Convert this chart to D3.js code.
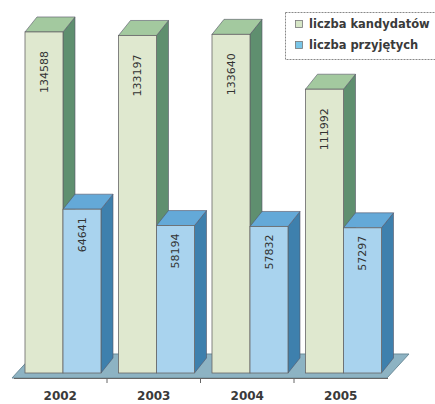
<!DOCTYPE html>
<html>
<head>
<meta charset="utf-8">
<script src="https://cdn.jsdelivr.net/npm/d3@7"></script>
<style>
  html, body { margin: 0; padding: 0; background: #fff; }
  svg { display: block; }
</style>
</head>
<body>
<svg id="chart" width="435" height="404"></svg>
<script>
// Data
const years = ["2002", "2003", "2004", "2005"];
const seriesNames = ["liczba kandydatów", "liczba przyjętych"];
const candidates = [134588, 133197, 133640, 111992];
const admitted = [64641, 58194, 57832, 57297];

// Face colours per series: front, top, side
const palette = [
  { front: "#dfe8cf", top: "#a3c99f", side: "#5f8f6f", swatch: "#d6e6c6" },
  { front: "#a9d3ee", top: "#64a9d8", side: "#3e80ad", swatch: "#79c6e8" }
];

const svg = d3.select("#chart");
const depthX = 12, depthY = -15;
const baseY = 373;

const x0 = d3.scaleBand().domain(years).range([13.5, 387.5]);
const x1 = d3.scaleBand().domain(seriesNames).range([0, 76]);
const groupOffset = 11.5;
const y = d3.scaleLinear().domain([0, 140000]).range([baseY, baseY - 140000 * 0.002534]);

// Floor
const floorG = svg.append("g");
floorG.append("polygon")
  .attr("points", [[12, 378], [387, 378], [409, 354], [34, 354]].map(p => p.join(",")).join(" "))
  .attr("fill", "#8db3c3")
  .attr("stroke", "#6d8c99")
  .attr("stroke-width", 1);

// Category axis along the front edge of the floor
const axis = d3.axisBottom(x0).tickSize(0).tickFormat("");
const axisG = svg.append("g").attr("transform", `translate(0,${378})`).call(axis);
axisG.select(".domain").attr("stroke", "#666").attr("stroke-width", 1.2);
const bounds = [...years.map(d => x0(d)), x0.range()[1]];
axisG.selectAll(".sep").data(bounds.slice(1, -1)).enter().append("line")
  .attr("class", "sep")
  .attr("x1", d => d).attr("x2", d => d)
  .attr("y1", 0).attr("y2", 5)
  .attr("stroke", "#666");

// Bars
const rows = [];
years.forEach((yr, i) => {
  rows.push({ year: yr, s: 0, value: candidates[i] });
  rows.push({ year: yr, s: 1, value: admitted[i] });
});

const bars = svg.append("g").selectAll("g.bar").data(rows).enter().append("g").attr("class", "bar");

bars.each(function (d) {
  const g = d3.select(this);
  const xl = x0(d.year) + groupOffset + x1(seriesNames[d.s]);
  const w = x1.bandwidth();
  const xr = xl + w;
  const top = y(d.value);
  const c = palette[d.s];
  const pts = a => a.map(p => p.join(",")).join(" ");
  // side face
  g.append("polygon")
    .attr("points", pts([[xr, top], [xr + depthX, top + depthY], [xr + depthX, baseY + depthY], [xr, baseY]]))
    .attr("fill", c.side).attr("stroke", "#556").attr("stroke-width", 0.6);
  // top face
  g.append("polygon")
    .attr("points", pts([[xl, top], [xl + depthX, top + depthY], [xr + depthX, top + depthY], [xr, top]]))
    .attr("fill", c.top).attr("stroke", "#556").attr("stroke-width", 0.6);
  // front face
  g.append("rect")
    .attr("x", xl).attr("y", top).attr("width", w).attr("height", baseY - top)
    .attr("fill", c.front).attr("stroke", "#666").attr("stroke-width", 0.8);
  // value label
  const cx = xl + w / 2;
  const ly = top + (d.s === 0 ? 19 : 8);
  g.append("text")
    .attr("transform", `translate(${cx},${ly}) rotate(-90)`)
    .attr("text-anchor", "end")
    .attr("dy", "0.35em")
    .attr("font-family", "DejaVu Sans, Verdana, sans-serif")
    .attr("font-size", 11)
    .attr("fill", "#333")
    .text(d.value);
});

// Year labels
svg.append("g").selectAll("text").data(years).enter().append("text")
  .attr("x", d => x0(d) + x0.bandwidth() / 2)
  .attr("y", 400)
  .attr("text-anchor", "middle")
  .attr("font-family", "DejaVu Sans, Verdana, sans-serif")
  .attr("font-weight", "bold")
  .attr("font-size", 12)
  .attr("fill", "#3a3a3a")
  .text(d => d);

// Legend
const legend = svg.append("g");
legend.append("rect")
  .attr("x", 285.5).attr("y", 12.5).attr("width", 170).attr("height", 47)
  .attr("fill", "#fff")
  .attr("stroke", "#888")
  .attr("stroke-dasharray", "2,1");
const legendRows = [24, 45];
seriesNames.forEach((name, i) => {
  legend.append("rect")
    .attr("x", 295.5).attr("y", legendRows[i] - 3.5).attr("width", 7).attr("height", 7)
    .attr("fill", palette[i].swatch).attr("stroke", "#777").attr("stroke-width", 0.8);
  legend.append("text")
    .attr("x", 309).attr("y", legendRows[i])
    .attr("dy", "0.35em")
    .attr("font-family", "DejaVu Sans, Verdana, sans-serif")
    .attr("font-weight", "bold")
    .attr("font-size", 11.5)
    .attr("fill", "#3a3a3a")
    .text(name);
});
</script>
</body>
</html>
